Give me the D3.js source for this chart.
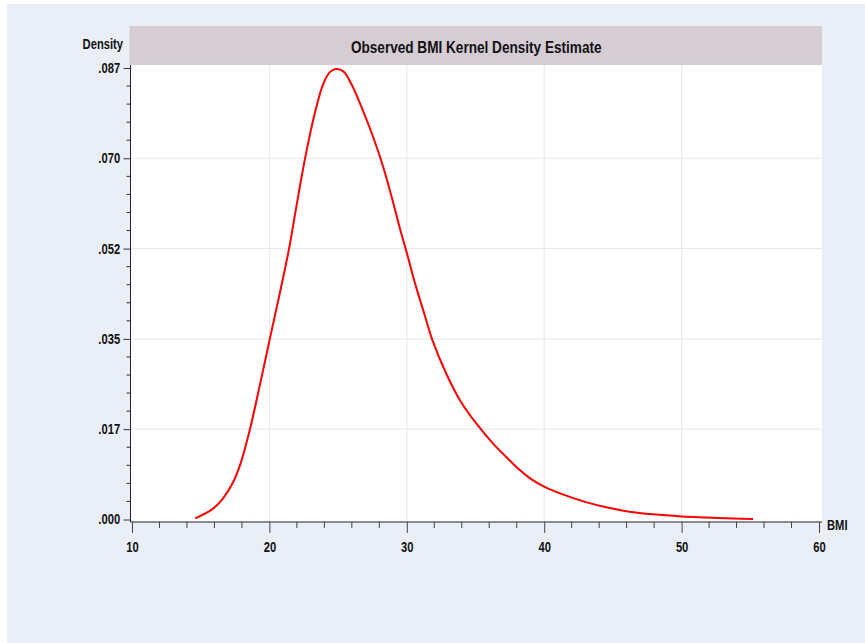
<!DOCTYPE html>
<html>
<head>
<meta charset="utf-8">
<script src="https://cdn.jsdelivr.net/npm/d3@7"></script>
<style>
  body { margin: 0; background: #fff; }
  svg text { font-family: "Liberation Sans", Arial, sans-serif; font-weight: bold; fill: #111; }
</style>
</head>
<body>
<svg width="865" height="643"></svg>
<script>
// BMI kernel density
const bmi = [14.6, 15.9, 16.6, 17.3, 17.9, 18.6, 19.3, 20.0, 20.7, 21.43, 22.0, 22.6, 23.3, 23.9, 24.4, 24.85,
  25.4, 26.0, 26.7, 27.45, 28.2, 28.9, 29.5, 30.0, 30.6, 31.3, 31.83, 32.9, 33.9, 35.1, 36.3, 37.5,
  38.2, 39.0, 40.1, 41.4, 43.1, 44.6, 46.2, 47.9, 50.0, 51.8, 53.8, 55.2];
const density = [0.0002, 0.0021, 0.0040, 0.0069, 0.0108, 0.0176, 0.0259, 0.0345, 0.0430, 0.0523, 0.0610, 0.0698, 0.0784, 0.0840, 0.0864, 0.0870,
  0.0865, 0.0839, 0.0797, 0.0746, 0.0688, 0.0623, 0.0562, 0.0515, 0.0456, 0.0395, 0.0349, 0.0280, 0.0229, 0.0184, 0.0146, 0.0114,
  0.0096, 0.0079, 0.0062, 0.0048, 0.0033, 0.0023, 0.0015, 0.0010, 0.0006, 0.0004, 0.0002, 0.0001];

const yTicks = [0, 0.01744, 0.03488, 0.05232, 0.06976, 0.0872];
const xTicks = [10, 20, 30, 40, 50, 60];
const title = "Observed BMI Kernel Density Estimate";

const svg = d3.select("svg");
const narrow = 0.8; // squeeze text horizontally, the original uses a condensed face

const x = d3.scaleLinear().domain([10, 60]).range([132, 819]);
const y = d3.scaleLinear().domain([0, 0.0872]).range([519.5, 68]);

const plotL = 130.5, plotR = 822, plotT = 65, plotB = 522;

// page background
svg.append("rect").attr("x", 7).attr("y", 4).attr("width", 858).attr("height", 639).attr("fill", "#eaeff7");

// plot region + title band
svg.append("rect").attr("x", plotL).attr("y", plotT).attr("width", plotR - plotL).attr("height", plotB - plotT).attr("fill", "#fff");
svg.append("rect").attr("x", plotL - 1).attr("y", 26).attr("width", plotR - plotL + 1).attr("height", 39).attr("fill", "#d5ccd4");

function label(tx, ty, txt, size, anchor) {
  svg.append("text").attr("transform", `translate(${tx},${ty}) scale(${narrow},1)`)
    .attr("text-anchor", anchor).style("font-size", size + "px").text(txt);
}
label((plotL + plotR) / 2, 53, title, 17, "middle");

// grid
svg.append("g").selectAll("line").data(xTicks.slice(1, -1)).join("line")
  .attr("x1", d => x(d)).attr("x2", d => x(d)).attr("y1", plotT).attr("y2", plotB)
  .attr("stroke", "#e6e6ec").attr("stroke-width", 1);
svg.append("g").selectAll("line").data(yTicks.slice(1, -1)).join("line")
  .attr("x1", plotL).attr("x2", plotR).attr("y1", d => y(d)).attr("y2", d => y(d))
  .attr("stroke", "#e6e6ec").attr("stroke-width", 1);

// y axis
const yMinor = d3.range(0, 25).map(i => i * 0.0872 / 25).filter((d, i) => i % 5 !== 0);
const yAxis = svg.append("g").attr("transform", `translate(${plotL},0)`)
  .call(d3.axisLeft(y).tickValues(yTicks).tickFormat(d => d3.format(".3f")(d).replace(/^0/, "")).tickSize(7).tickPadding(6));
yAxis.select(".domain").attr("d", `M0,${plotT}V${plotB}`).attr("stroke", "#222");
yAxis.selectAll(".tick line").attr("stroke", "#333");
yAxis.selectAll("text").style("font-size", "14px").style("font-family", null).attr("transform", `scale(${narrow},1)`);
svg.append("g").selectAll("line").data(yMinor).join("line")
  .attr("x1", plotL - 4).attr("x2", plotL).attr("y1", d => y(d)).attr("y2", d => y(d)).attr("stroke", "#333");

// x axis
const xMinor = d3.range(10, 61, 2).filter(d => d % 10 !== 0);
const xAxis = svg.append("g").attr("transform", `translate(0,${plotB})`)
  .call(d3.axisBottom(x).tickValues(xTicks).tickFormat(d3.format("d")).tickSize(11).tickPadding(9));
xAxis.select(".domain").attr("d", `M${plotL},0H${plotR}`).attr("stroke", "#222");
xAxis.selectAll(".tick line").attr("stroke", "#444");
xAxis.selectAll("text").style("font-size", "14px").style("font-family", null).attr("transform", `scale(${narrow},1)`);
svg.append("g").selectAll("line").data(xMinor).join("line")
  .attr("x1", d => x(d)).attr("x2", d => x(d)).attr("y1", plotB).attr("y2", plotB + 6).attr("stroke", "#444");

// axis titles
label(123, 49, "Density", 14, "end");
label(827, 530, "BMI", 14, "start");

// density curve
const pts = bmi.map((b, i) => [b, density[i]]);
const line = d3.line().x(d => x(d[0])).y(d => y(d[1])).curve(d3.curveCatmullRom.alpha(0.5));
svg.append("path").datum(pts).attr("d", line).attr("fill", "none")
  .attr("stroke", "#ff0000").attr("stroke-width", 2);
</script>
</body>
</html>
